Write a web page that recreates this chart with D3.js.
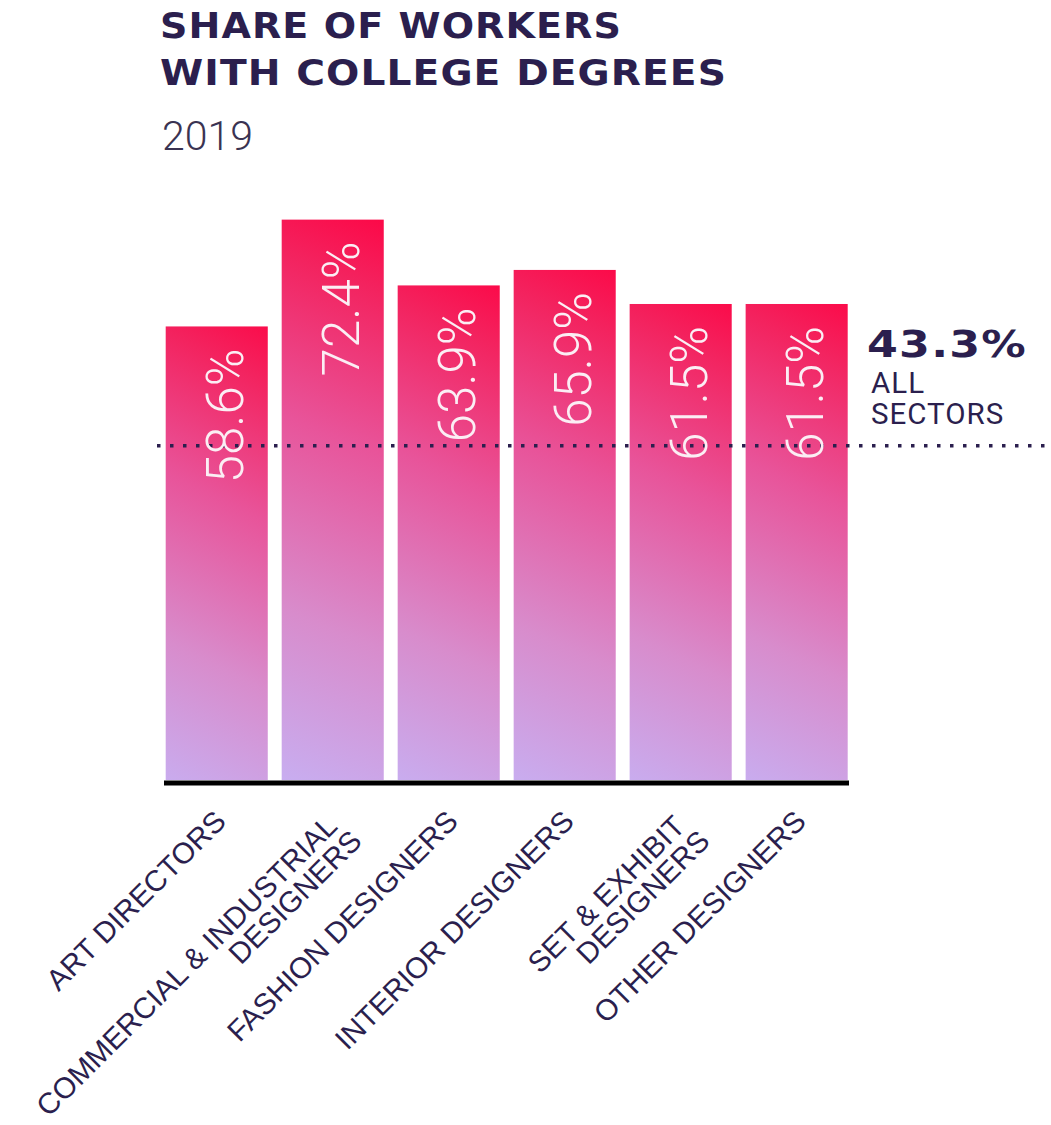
<!DOCTYPE html>
<html>
<head>
<meta charset="utf-8">
<script src="https://cdn.jsdelivr.net/npm/d3@7/dist/d3.min.js"></script>
<style>
  html, body { margin: 0; padding: 0; background: #ffffff; }
  svg { display: block; }
</style>
</head>
<body>
<svg id="chart" width="1051" height="1125"></svg>
<script>
// ---- data ----
const categories = [
  ["ART DIRECTORS"],
  ["COMMERCIAL & INDUSTRIAL", "DESIGNERS"],
  ["FASHION DESIGNERS"],
  ["INTERIOR DESIGNERS"],
  ["SET & EXHIBIT", "DESIGNERS"],
  ["OTHER DESIGNERS"]
];
const values = [58.6, 72.4, 63.9, 65.9, 61.5, 61.5];
const allSectors = 43.3;
const titleLines = ["SHARE OF WORKERS", "WITH COLLEGE DEGREES"];
const subtitle = "2019";
const refLabelLines = ["ALL", "SECTORS"];

// ---- setup ----
const svg = d3.select("#chart");
const W = 1051, H = 1125;
const ink = "#2b1f4e";

const keys = categories.map(c => c.join(" "));
const x = d3.scaleBand().domain(keys).range([165.7, 847.7]).paddingInner(0.12).paddingOuter(0);
const y = d3.scaleLinear().domain([0, 100]).range([780, 6]);

const defs = svg.append("defs");

// bars
const g = svg.append("g");
values.forEach((v, i) => {
  const k = keys[i];
  const x0 = x(k), bw = x.bandwidth();
  const top = y(v), bot = y(0);
  const id = "grad" + i;
  const gr = defs.append("linearGradient")
    .attr("id", id)
    .attr("gradientUnits", "userSpaceOnUse")
    .attr("x1", x0 - 60).attr("y1", bot)
    .attr("x2", x0 + bw + 60).attr("y2", top);
  [[0, "#c6b2f5"], [0.3, "#d88ccc"], [0.6, "#e8549a"], [0.85, "#f3235f"], [1, "#ff0040"]].forEach(s => {
    gr.append("stop").attr("offset", s[0]).attr("stop-color", s[1]);
  });
  g.append("rect")
    .attr("x", x0).attr("y", top)
    .attr("width", bw).attr("height", bot - top)
    .attr("fill", `url(#${id})`);
});

// reference dotted line
svg.append("line")
  .attr("x1", 157).attr("x2", W)
  .attr("y1", y(allSectors) + 1).attr("y2", y(allSectors) + 1)
  .attr("stroke", ink)
  .attr("stroke-width", 3.5)
  .attr("stroke-dasharray", "3.5,9.5");

// value labels (rotated)
values.forEach((v, i) => {
  const k = keys[i];
  const cx = x(k) + x.bandwidth() / 2 + 26;
  const ty = y(v) + 22;
  svg.append("text")
    .attr("transform", `translate(${cx},${ty}) rotate(-90)`)
    .attr("text-anchor", "end")
    .attr("font-family", "Roboto, sans-serif")
    .attr("font-weight", 300)
    .attr("font-size", 51)
    .attr("fill", "#fbeef4")
    .text(d3.format(".1f")(v) + "%");
});

// baseline axis
const axis = d3.axisBottom(x).tickSize(0).tickFormat("");
const ax = svg.append("g").attr("transform", `translate(0,${y(0) + 3})`).call(axis);
ax.select(".domain").remove();
svg.append("line")
  .attr("x1", 164).attr("x2", 849)
  .attr("y1", y(0) + 3).attr("y2", y(0) + 3)
  .attr("stroke", "#000").attr("stroke-width", 5);

// category labels
const lh = 28;
categories.forEach((lines, i) => {
  const k = keys[i];
  const cx = x(k) + x.bandwidth() / 2 + 11;
  const t = svg.append("text")
    .attr("transform", `translate(${cx},${823}) rotate(-45)`)
    .attr("text-anchor", "end")
    .attr("font-family", "'Liberation Sans', Arial, sans-serif")
    .attr("font-size", 29.5)
    .attr("fill", ink);
  lines.forEach((ln, j) => {
    t.append("tspan")
      .attr("x", lines.length > 1 && j === 0 ? -7 : 0)
      .attr("y", j * lh)
      .text(ln);
  });
});

// title
const titleWidths = [462, 567];
titleLines.forEach((ln, i) => {
  svg.append("text")
    .attr("x", 160).attr("y", 38 + i * 47)
    .attr("font-family", "'DejaVu Sans', sans-serif")
    .attr("font-weight", "bold")
    .attr("font-size", 36)
    .attr("letter-spacing", 1)
    .attr("textLength", titleWidths[i])
    .attr("lengthAdjust", "spacingAndGlyphs")
    .attr("fill", ink)
    .text(ln);
});
svg.append("text")
  .attr("x", 162).attr("y", 150)
  .attr("font-family", "Roboto, sans-serif")
  .attr("font-weight", 300)
  .attr("font-size", 41)
  .attr("fill", "#3a3352")
  .text(subtitle);

// reference annotation
svg.append("text")
  .attr("x", 867).attr("y", 357)
  .attr("font-family", "'DejaVu Sans', sans-serif")
  .attr("font-weight", "bold")
  .attr("font-size", 37)
  .attr("letter-spacing", 1)
  .attr("textLength", 160)
  .attr("lengthAdjust", "spacingAndGlyphs")
  .attr("fill", ink)
  .text(d3.format(".1f")(allSectors) + "%");
refLabelLines.forEach((ln, i) => {
  svg.append("text")
    .attr("x", 871).attr("y", 393 + i * 31)
    .attr("font-family", "Roboto, sans-serif")
    .attr("font-size", 29.5)
    .attr("letter-spacing", 1)
    .attr("fill", ink)
    .text(ln);
});
</script>
</body>
</html>
